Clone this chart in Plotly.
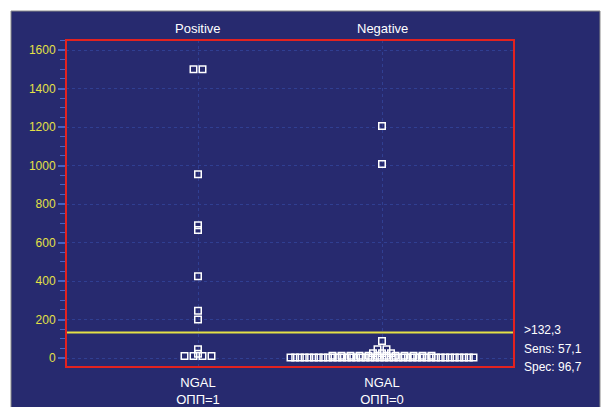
import plotly.graph_objects as go
from collections import Counter

# ---- data ----
groups = ["Positive", "Negative"]
group_ticks = ["NGAL<br>ОПП=1", "NGAL<br>ОПП=0"]
positive_vals = [1500, 1500, 955, 690, 665, 425, 245, 200, 45, 22, 10, 10, 10, 10]
negative_vals = [1205, 1008, 88, 45, 45] + [25] * 3 + [12] * 12 + [2] * 40
cutoff = 132.3
stats_lines = [">132,3", "Sens: 57,1", "Spec: 96,7"]
y_ticks = [0, 200, 400, 600, 800, 1000, 1200, 1400, 1600]

# ---- geometry (pixels) ----
W, H = 605, 407
L, R, T, B = 66, 514, 40, 367
PX_PER_UNIT = 184.0
BASE_SP = 9.0 / PX_PER_UNIT
MAX_W = 183.0 / PX_PER_UNIT


def spread(vals, center):
    cnt = Counter(vals)
    seen = Counter()
    xs = []
    for v in vals:
        n = cnt[v]
        sp = BASE_SP if n < 2 else min(BASE_SP, MAX_W / (n - 1))
        i = seen[v]
        seen[v] += 1
        xs.append(center + (i - (n - 1) / 2) * sp)
    return xs


NAVY = "#272a6f"
YELLOW = "#e4e046"
TICKBLUE = "#4664c4"
GRID = "#303f92"
RED = "#e3221f"
FONT = "Arial, Liberation Sans, sans-serif"

fig = go.Figure()
for vals, c in ((positive_vals, 0), (negative_vals, 1)):
    fig.add_trace(go.Scatter(
        x=spread(vals, c), y=vals, mode="markers",
        marker=dict(symbol="square-open", size=6.5, color="white",
                    line=dict(width=1.5, color="white")),
        showlegend=False, hoverinfo="y"))

xr = [(L - 198) / PX_PER_UNIT, (R - 198) / PX_PER_UNIT]
ppu_y = (358 - 50) / 1600.0
yr = [-(B - 358) / ppu_y, 1600 + (50 - T) / ppu_y]


def px(xp):
    return (xp - L) / (R - L)


def py(yp):
    return (B - yp) / (B - T)


shapes = [
    dict(type="rect", xref="paper", yref="paper", x0=px(11), x1=px(600),
         y0=py(420), y1=py(11), fillcolor=NAVY,
         line=dict(color="#8a8a8a", width=1), layer="below"),
    dict(type="line", xref="paper", yref="y", x0=0, x1=1, y0=cutoff, y1=cutoff,
         line=dict(color=YELLOW, width=2), layer="above"),
    dict(type="rect", xref="paper", yref="paper", x0=0, x1=1, y0=0, y1=1,
         line=dict(color=RED, width=2), layer="above"),
]

annotations = []
for i, g in enumerate(groups):
    annotations.append(dict(x=i, xref="x", y=py(28), yref="paper", text=g,
                            showarrow=False, yanchor="middle",
                            font=dict(color="white", size=13, family=FONT)))
for k, s in enumerate(stats_lines):
    annotations.append(dict(x=px(522), xref="paper", y=py(330 + 18.5 * k), yref="paper",
                            text=s, showarrow=False, xanchor="left", yanchor="middle",
                            font=dict(color="white", size=12, family=FONT)))

fig.update_layout(
    width=W, height=H,
    margin=dict(l=L, r=W - R, t=T, b=H - B, pad=0, autoexpand=False),
    paper_bgcolor="white", plot_bgcolor="rgba(0,0,0,0)",
    shapes=shapes, annotations=annotations,
    font=dict(family=FONT),
    xaxis=dict(range=xr, tickvals=[0, 1], ticktext=group_ticks,
               showgrid=True, gridcolor=GRID, griddash="dot", gridwidth=1,
               zeroline=False, showline=False, ticks="", automargin=False,
               ticklabelstandoff=6,
               tickfont=dict(color="white", size=13, family=FONT)),
    yaxis=dict(range=yr, tickvals=y_ticks, showgrid=True, gridcolor=GRID,
               griddash="dot", gridwidth=1, zeroline=False, showline=False,
               ticks="outside", ticklen=7, tickcolor=TICKBLUE, tickwidth=1.5,
               automargin=False,
               tickfont=dict(color=YELLOW, size=12, family=FONT),
               minor=dict(dtick=50, tick0=0, ticks="outside", ticklen=5,
                          tickcolor=TICKBLUE, tickwidth=1, showgrid=False)),
)

fig.write_html("out.html", config={"displayModeBar": False},
               post_script="document.body.style.margin='0px';document.body.style.overflow='hidden';")
